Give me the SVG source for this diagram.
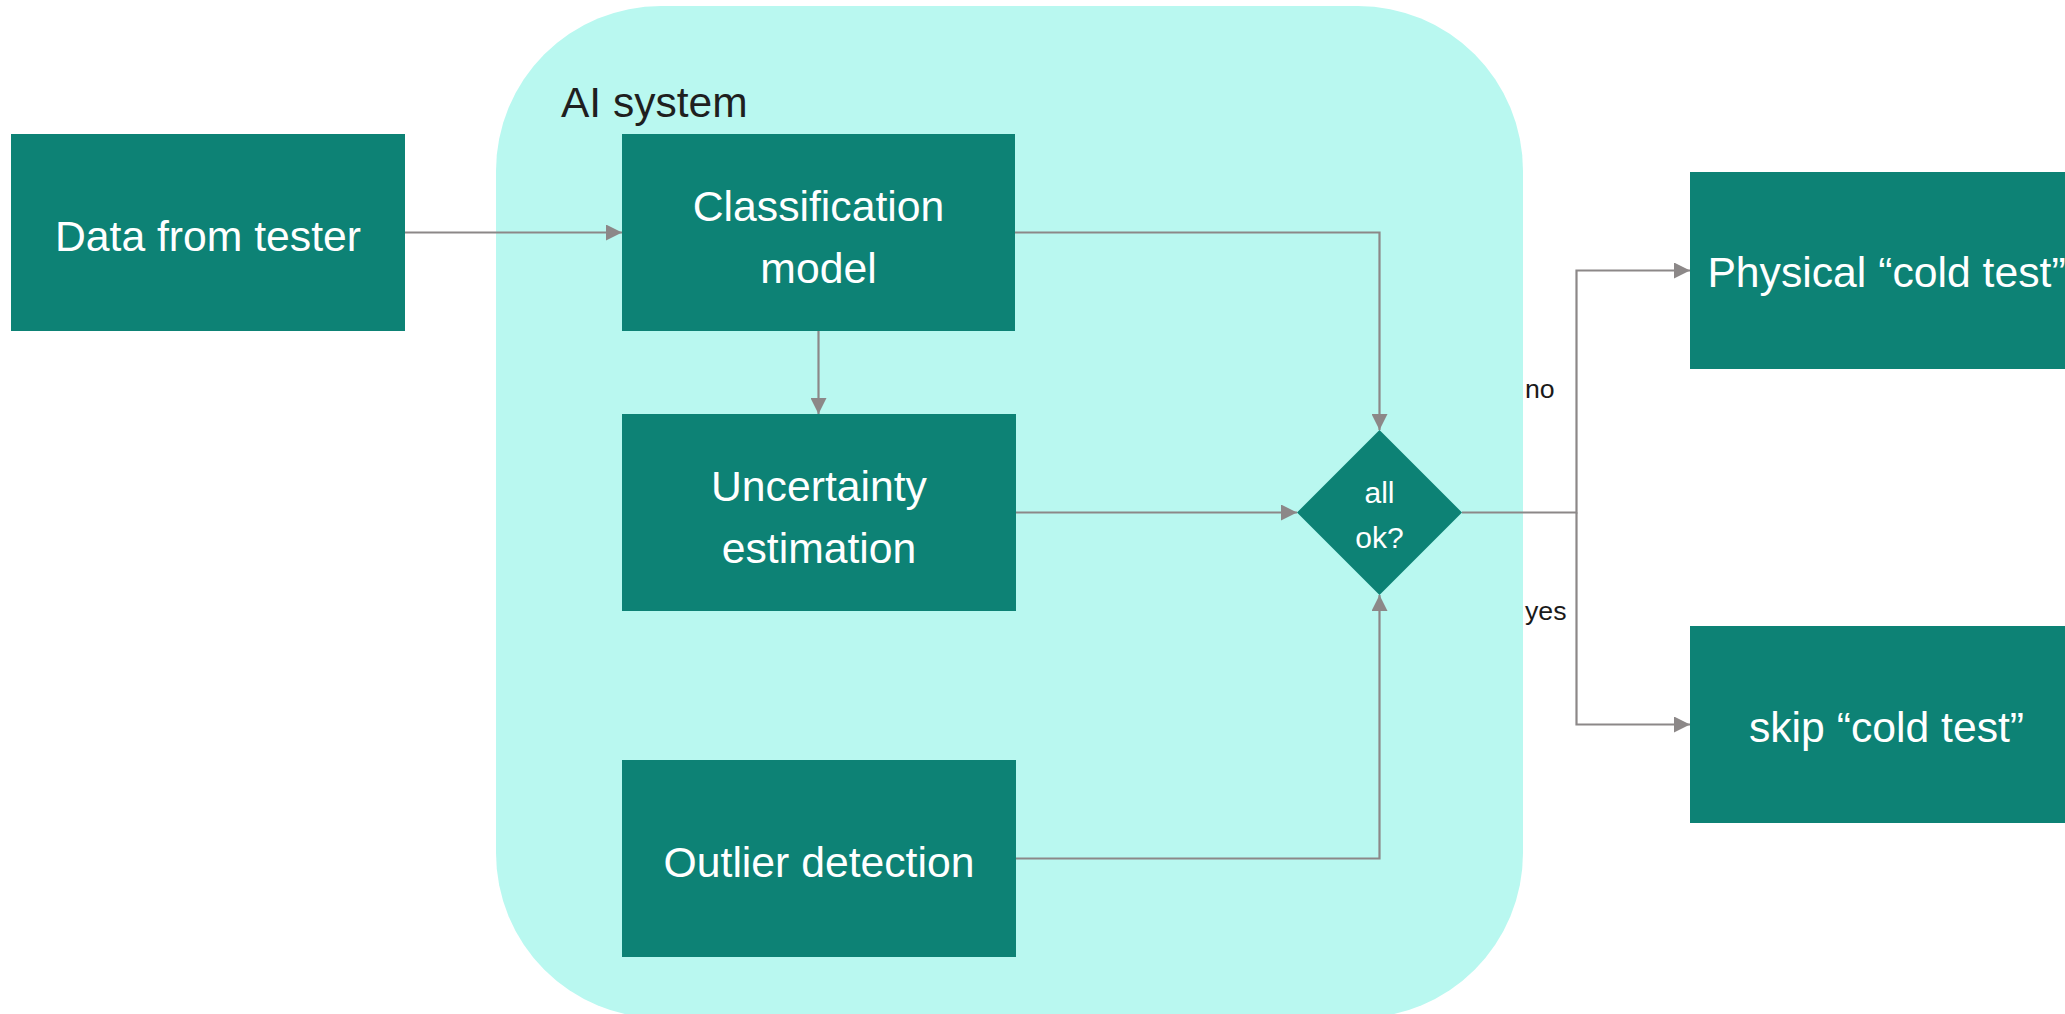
<svg xmlns="http://www.w3.org/2000/svg" width="2065" height="1014" viewBox="0 0 2065 1014">
  <style>
    .box { fill: #0d8275; }
    .label { fill: #ffffff; font-family: "Liberation Sans", Arial, sans-serif; font-size: 42.7px; text-anchor: middle; }
    .small { fill: #ffffff; font-family: "Liberation Sans", Arial, sans-serif; font-size: 30px; text-anchor: middle; }
    .edge-label { fill: #1a1a1a; font-family: "Liberation Sans", Arial, sans-serif; font-size: 26.7px; }
    .title { fill: #1f1f1f; font-family: "Liberation Sans", Arial, sans-serif; font-size: 42.5px; }
    .conn { fill: none; stroke: #8c8888; stroke-width: 2.2; marker-end: url(#arrow); }
  </style>
  <defs>
    <marker id="arrow" viewBox="0 0 16 16" refX="16" refY="8" markerWidth="16" markerHeight="16" markerUnits="userSpaceOnUse" orient="auto">
      <path d="M0,0 L16,8 L0,16 Z" fill="#8c8888"/>
    </marker>
  </defs>

  <rect width="2065" height="1014" fill="#ffffff"/>

  <!-- AI system container -->
  <g id="ai-system">
    <rect x="496" y="6" width="1027" height="1012" rx="165" ry="165" fill="#b9f8f0"/>
    <text class="title" x="561" y="117">AI system</text>
  </g>

  <!-- Connectors -->
  <g id="connectors">
    <path class="conn" d="M405,232.5 H622"/>
    <path class="conn" d="M1015,232.5 H1379.5 V430"/>
    <path class="conn" d="M818.5,331 V414"/>
    <path class="conn" d="M1016,512.5 H1297"/>
    <path class="conn" d="M1016,858.5 H1379.5 V595"/>
    <path class="conn" d="M1462,512.5 H1576.5 V270.5 H1690"/>
    <path class="conn" d="M1576.5,512.5 V724.5 H1690"/>
    <text class="edge-label" x="1525" y="398">no</text>
    <text class="edge-label" x="1525" y="620">yes</text>
  </g>

  <g id="data-from-tester">
    <rect class="box" x="11" y="134" width="394" height="197"/>
    <text class="label" x="208" y="251">Data from tester</text>
  </g>

  <g id="classification-model">
    <rect class="box" x="622" y="134" width="393" height="197"/>
    <text class="label" x="818.5" y="221">Classification</text>
    <text class="label" x="818.5" y="283">model</text>
  </g>

  <g id="uncertainty-estimation">
    <rect class="box" x="622" y="414" width="394" height="197"/>
    <text class="label" x="819" y="501">Uncertainty</text>
    <text class="label" x="819" y="563">estimation</text>
  </g>

  <g id="outlier-detection">
    <rect class="box" x="622" y="760" width="394" height="197"/>
    <text class="label" x="819" y="877">Outlier detection</text>
  </g>

  <g id="all-ok">
    <polygon class="box" points="1379.5,430 1462,512.5 1379.5,595 1297,512.5"/>
    <text class="small" x="1379.5" y="503">all</text>
    <text class="small" x="1379.5" y="548">ok?</text>
  </g>

  <g id="physical-cold-test">
    <rect class="box" x="1690" y="172" width="393" height="197"/>
    <text class="label" x="1886.5" y="287">Physical “cold test”</text>
  </g>

  <g id="skip-cold-test">
    <rect class="box" x="1690" y="626" width="393" height="197"/>
    <text class="label" x="1886.5" y="742">skip “cold test”</text>
  </g>
</svg>
